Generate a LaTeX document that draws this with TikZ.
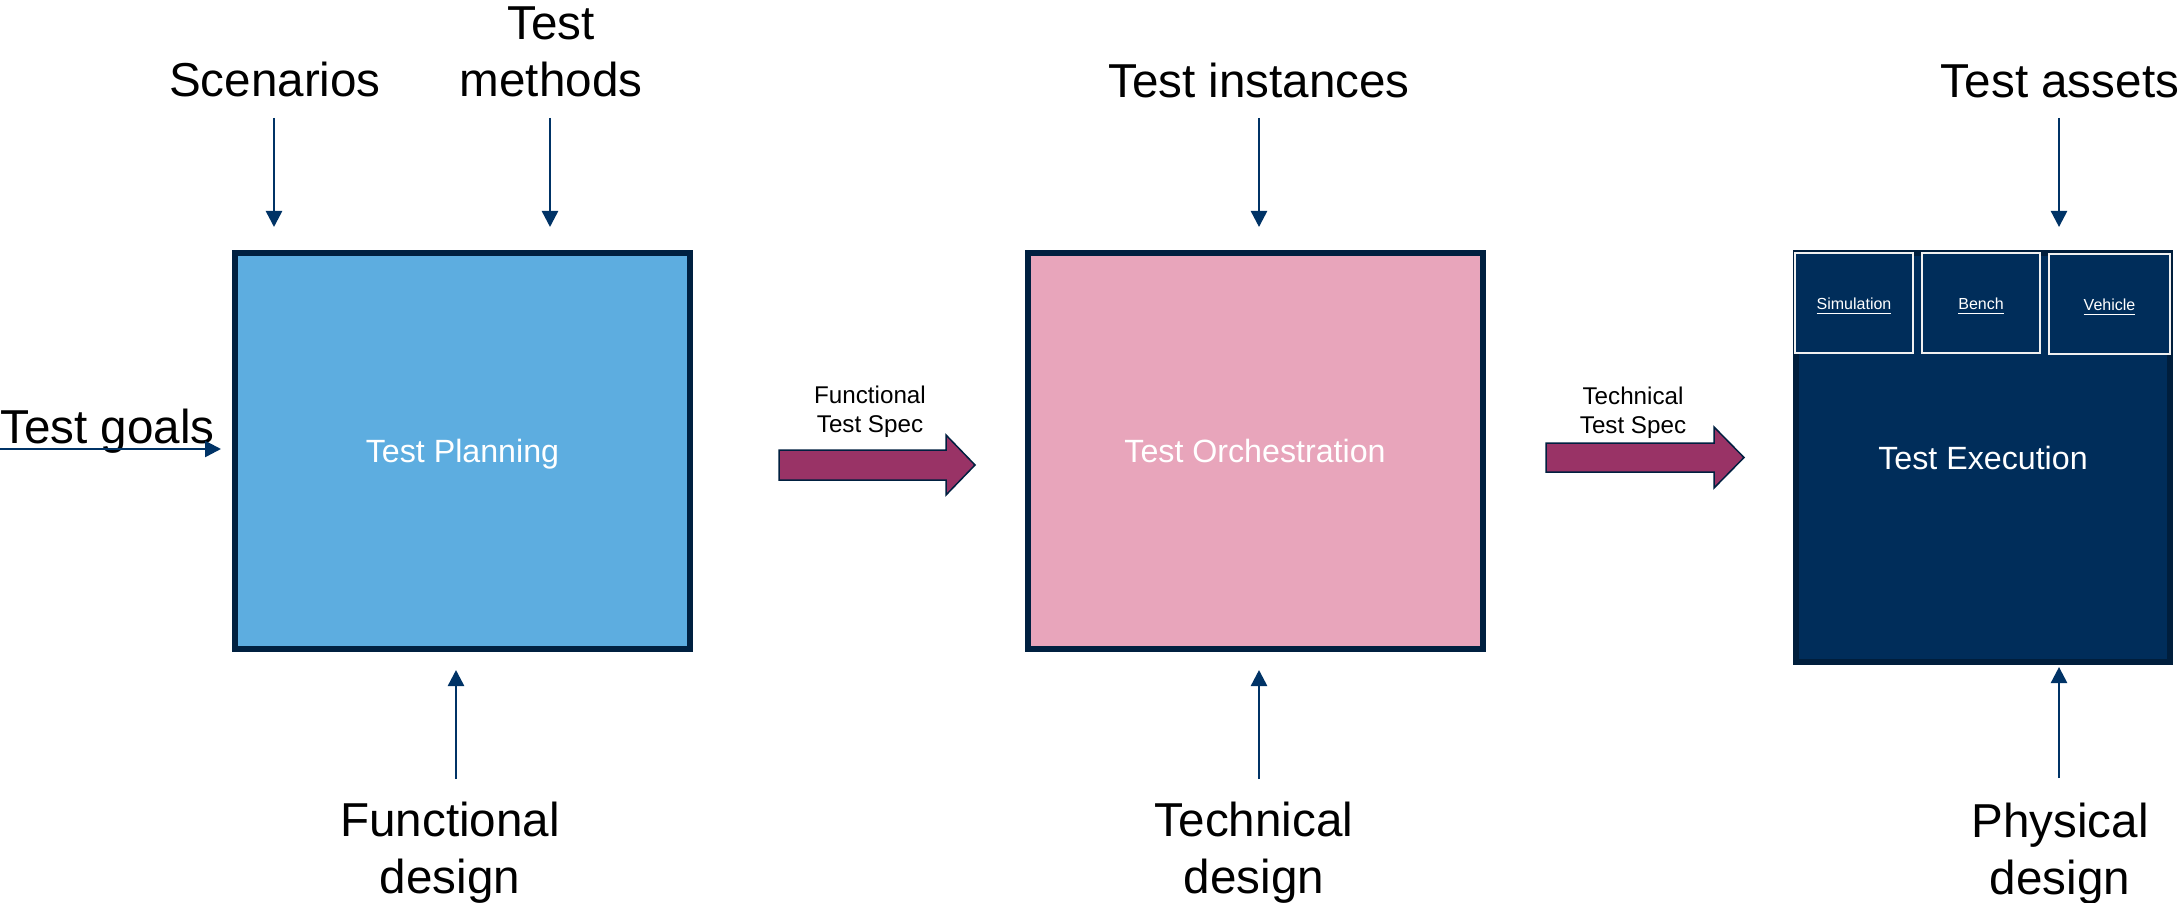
\documentclass[tikz,border=0pt]{standalone}
\usepackage{fontspec}
\setmainfont{Liberation Sans}
\usetikzlibrary{arrows.meta}
\definecolor{navy}{HTML}{002040}
\definecolor{arrnavy}{HTML}{003366}
\definecolor{skyfill}{HTML}{5DADE0}
\definecolor{pinkfill}{HTML}{E8A5BB}
\definecolor{execfill}{HTML}{002D5A}
\definecolor{execborder}{HTML}{001E3C}
\definecolor{plum}{HTML}{993366}
\definecolor{subline}{HTML}{F0F0F0}
\begin{document}
\begin{tikzpicture}[x=0.5pt,y=-0.5pt,
  biglabel/.style={font=\fontsize{23.8}{28.5}\selectfont, align=center, inner sep=0pt, anchor=base, text=black},
  stagebox/.style={draw=navy, line width=3pt, minimum width=227.5pt, minimum height=198pt, inner sep=0pt, text depth=0pt, text=white, font=\fontsize{16.1}{18}\selectfont},
  inarr/.style={draw=arrnavy, line width=1.25pt, -{Triangle[length=8pt,width=8pt]}},
  fatarrow/.style={fill=plum, draw=navy, line width=0.75pt, line join=miter},
  speclabel/.style={font=\fontsize{12.1}{14.5}\selectfont, align=center, inner sep=0pt, anchor=base, text=black},
  subbox/.style={draw=subline, line width=1pt, fill=execfill, inner sep=0pt, text height=7pt, text depth=0pt, text=white, font=\fontsize{8}{9.6}\selectfont},
]
\useasboundingbox[fill=white] (0,0) rectangle (2182,903);

% stage boxes
\node[stagebox, fill=skyfill] (plan) at (462.5,451) {Test Planning};
\node[stagebox, fill=pinkfill] (orch) at (1255,451) {Test Orchestration};
\node[stagebox, fill=execfill, draw=execborder, minimum width=187pt, minimum height=204.5pt] (exec) at (1983,457.5) {Test Execution};

% sub boxes
\node[subbox, minimum width=59pt, minimum height=50pt] (sim) at (1854,303) {\underline{Simulation}};
\node[subbox, minimum width=59pt, minimum height=50pt] (bench) at (1981,303) {\underline{Bench}};
\node[subbox, minimum width=60.5pt, minimum height=50pt] (veh) at (2109.5,304) {\underline{Vehicle}};

% labels (base anchor = baseline of the last line)
\node[biglabel] (scen) at (275,97) {Scenarios};
\node[biglabel] (meth) at (551,97) {Test\\methods};
\node[biglabel] (inst) at (1259,98) {Test instances};
\node[biglabel] (assets) at (2060,98) {Test assets};
\node[biglabel, anchor=base west] (goals) at (0,443) {Test goals};
\node[biglabel] (fdes) at (450,893) {Functional\\design};
\node[biglabel] (tdes) at (1254,893) {Technical\\design};
\node[biglabel] (pdes) at (2060,894) {Physical\\design};

\node[speclabel] (fspec) at (870,432) {Functional\\Test Spec};
\node[speclabel] (tspec) at (1633,433) {Technical\\Test Spec};

% fat arrows
\draw[fatarrow] (779,450) -- (946,450) -- (946,435) -- (975,465) -- (946,495) -- (946,480) -- (779,480) -- cycle;
\draw[fatarrow] (1546,443) -- (1714,443) -- (1714,427) -- (1744,457.5) -- (1714,488) -- (1714,472) -- (1546,472) -- cycle;

% connector end points
\coordinate (scenA) at (274,118);  \coordinate (scenB) at (274,227);
\coordinate (methA) at (550,118);  \coordinate (methB) at (550,227);
\coordinate (instA) at (1259,118); \coordinate (instB) at (1259,227);
\coordinate (assA) at (2059,118);  \coordinate (assB) at (2059,227);
\coordinate (goalA) at (0,449);    \coordinate (goalB) at (221,449);
\coordinate (fdA) at (456,779);    \coordinate (fdB) at (456,670);
\coordinate (tdA) at (1259,779);   \coordinate (tdB) at (1259,670);
\coordinate (pdA) at (2059,778);   \coordinate (pdB) at (2059,667);

\draw[inarr] (scenA) -- (scenB);
\draw[inarr] (methA) -- (methB);
\draw[inarr] (instA) -- (instB);
\draw[inarr] (assA) -- (assB);
\draw[inarr] (goalA) -- (goalB);
\draw[inarr] (fdA) -- (fdB);
\draw[inarr] (tdA) -- (tdB);
\draw[inarr] (pdA) -- (pdB);
\end{tikzpicture}
\end{document}
